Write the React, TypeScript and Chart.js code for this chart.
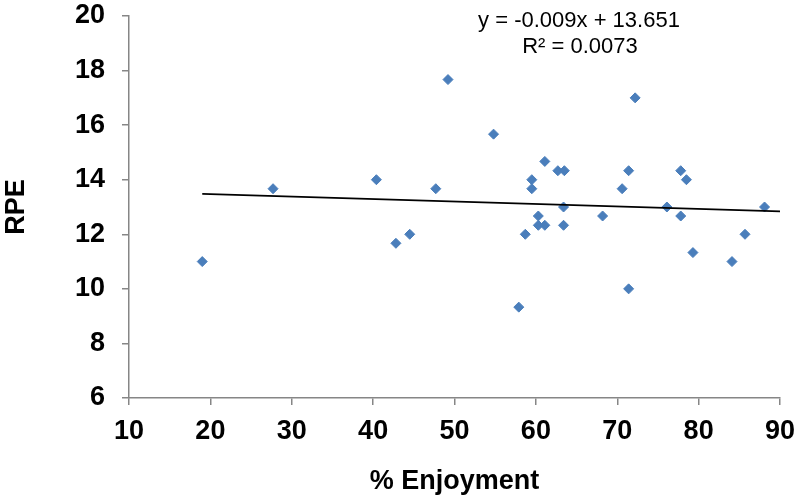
import React, { useEffect, useRef } from "react";
import { Chart, registerables } from "chart.js";

Chart.register(...registerables);

// % Enjoyment (x) and RPE (y) for each participant
const enjoyment = [
  19.0, 27.7, 40.4, 42.8, 44.5, 47.7, 49.2, 54.8, 58.7, 59.5, 59.5, 60.3, 60.3,
  61.1, 61.1, 62.7, 63.5, 63.4, 63.4, 68.2, 70.6, 71.4, 72.2, 71.4, 57.9, 76.1,
  77.8, 77.8, 78.5, 79.3, 84.1, 85.7, 88.1,
];
const rpe = [
  11.0, 13.67, 14.0, 11.67, 12.0, 13.67, 17.67, 15.67, 12.0, 14.0, 13.67, 12.67,
  12.33, 12.33, 14.67, 14.33, 14.33, 13.0, 12.33, 12.67, 13.67, 14.33, 17.0, 10.0,
  9.33, 13.0, 14.33, 12.67, 14.0, 11.33, 11.0, 12.0, 13.0,
];

// Linear trendline end points (y = -0.009x + 13.651)
const trendX = [19.0, 90.0];
const trendY = [13.48, 12.84];

const equationLines = ["y = -0.009x + 13.651", "R\u00B2 = 0.0073"];

const xTicks = { min: 10, max: 90, step: 10 };
const yTicks = { min: 6, max: 20, step: 2 };

const FONT = "'Liberation Sans', Arial, Helvetica, sans-serif";
const AXIS_GRAY = "#868686";
const MARKER = "#4A7EBB";

const equationPlugin = {
  id: "equationText",
  afterDraw(chart: any) {
    const { ctx } = chart;
    ctx.save();
    ctx.fillStyle = "#000";
    ctx.font = `22px ${FONT}`;
    ctx.textAlign = "center";
    ctx.textBaseline = "middle";
    ctx.fillText(equationLines[0], 579, 21);
    ctx.fillText(equationLines[1], 580, 47);
    ctx.restore();
  },
};

export default function App() {
  const canvasRef = useRef<HTMLCanvasElement | null>(null);

  useEffect(() => {
    if (!canvasRef.current) return;
    const chart = new Chart(canvasRef.current, {
      type: "scatter",
      data: {
        datasets: [
          {
            label: "RPE",
            data: enjoyment.map((x, i) => ({ x, y: rpe[i] })),
            pointStyle: "rectRot",
            pointRadius: 5,
            pointHoverRadius: 5,
            backgroundColor: MARKER,
            borderColor: MARKER,
            borderWidth: 1,
            showLine: false,
            order: 2,
          },
          {
            label: "Linear",
            type: "line",
            data: trendX.map((x, i) => ({ x, y: trendY[i] })),
            borderColor: "#000",
            borderWidth: 1.6,
            pointRadius: 0,
            fill: false,
            order: 1,
          } as any,
        ],
      },
      options: {
        animation: false,
        responsive: true,
        maintainAspectRatio: false,
        events: [],
        layout: { padding: { left: 0, top: 16, right: 20, bottom: 0 } },
        plugins: {
          legend: { display: false },
          tooltip: { enabled: false },
          title: { display: false },
        },
        scales: {
          x: {
            type: "linear",
            min: xTicks.min,
            max: xTicks.max,
            afterFit(scale: any) {
              scale.height = 105;
              scale.paddingLeft = 0;
              scale.paddingRight = 0;
            },
            ticks: {
              stepSize: xTicks.step,
              color: "#000",
              padding: 10,
              font: { family: FONT, size: 27, weight: "bold" },
            },
            grid: {
              display: true,
              drawOnChartArea: false,
              drawTicks: true,
              tickLength: 7,
              color: AXIS_GRAY,
              lineWidth: 1.5,
            },
            border: { display: true, color: AXIS_GRAY, width: 1.5 },
            title: {
              display: true,
              text: "% Enjoyment",
              color: "#000",
              font: { family: FONT, size: 27, weight: "bold" },
              padding: { top: 0, bottom: 5 },
            },
          },
          y: {
            type: "linear",
            min: yTicks.min,
            max: yTicks.max,
            afterFit(scale: any) {
              scale.width = 129;
              scale.paddingTop = 0;
              scale.paddingBottom = 0;
            },
            ticks: {
              stepSize: yTicks.step,
              color: "#000",
              padding: 17,
              font: { family: FONT, size: 27, weight: "bold" },
            },
            grid: {
              display: true,
              drawOnChartArea: false,
              drawTicks: true,
              tickLength: 7,
              color: AXIS_GRAY,
              lineWidth: 1.5,
            },
            border: { display: true, color: AXIS_GRAY, width: 1.5 },
            title: {
              display: true,
              text: "RPE",
              color: "#000",
              font: { family: FONT, size: 27, weight: "bold" },
              padding: { top: 0, bottom: 0 },
            },
          },
        },
      } as any,
      plugins: [equationPlugin],
    });
    return () => chart.destroy();
  }, []);

  return (
    <div
      style={{
        position: "absolute",
        left: 0,
        top: 0,
        width: 800,
        height: 503,
        background: "#fff",
      }}
    >
      <canvas ref={canvasRef} />
    </div>
  );
}
